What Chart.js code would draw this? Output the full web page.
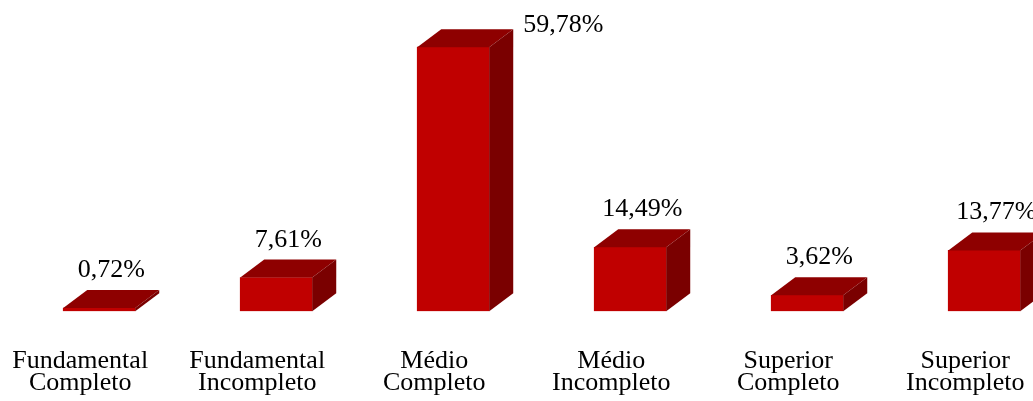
<!DOCTYPE html>
<html>
<head>
<meta charset="utf-8">
<script src="https://cdn.jsdelivr.net/npm/chart.js@4.4.1/dist/chart.umd.min.js"></script>
<style>
  html, body { margin: 0; padding: 0; background: #fff; overflow: hidden; }
  #wrap { position: absolute; left: -7px; top: 0; width: 1088px; height: 433px; }
</style>
</head>
<body>
<div id="wrap"><canvas id="escolaridade"></canvas></div>
<script>
// categorias e percentuais
const categorias = [
  ['Fundamental', 'Completo'],
  ['Fundamental', 'Incompleto'],
  ['Médio', 'Completo'],
  ['Médio', 'Incompleto'],
  ['Superior', 'Completo'],
  ['Superior', 'Incompleto']
];
const percentuais = [0.72, 7.61, 59.78, 14.49, 3.62, 13.77];
const rotulos = ['0,72%', '7,61%', '59,78%', '14,49%', '3,62%', '13,77%'];

const FRONT = '#c00000';
const TOP = '#8e0000';
const SIDE = '#7a0000';
const DX = 24, DY = 18;
const FONT = "'Liberation Serif', 'Times New Roman', serif";

// desenha topo e lateral das barras (efeito 3D) e os rótulos
const bar3d = {
  id: 'bar3d',
  afterDatasetsDraw(chart) {
    const ctx = chart.ctx;
    const meta = chart.getDatasetMeta(0);
    const base = chart.scales.y.getPixelForValue(0);
    ctx.save();
    meta.data.forEach((bar, i) => {
      const half = bar.width / 2;
      const l = bar.x - half, r = bar.x + half, t = bar.y;
      // topo
      ctx.fillStyle = TOP;
      ctx.beginPath();
      ctx.moveTo(l, t);
      ctx.lineTo(l + DX, t - DY);
      ctx.lineTo(r + DX, t - DY);
      ctx.lineTo(r, t);
      ctx.closePath();
      ctx.fill();
      // lateral
      ctx.fillStyle = SIDE;
      ctx.beginPath();
      ctx.moveTo(r, t);
      ctx.lineTo(r + DX, t - DY);
      ctx.lineTo(r + DX, base - DY);
      ctx.lineTo(r, base);
      ctx.closePath();
      ctx.fill();

      // rótulo
      ctx.fillStyle = '#000';
      ctx.font = '26px ' + FONT;
      ctx.textBaseline = 'alphabetic';
      let y = t - DY - 13;
      if (y - 20 < 0) {
        ctx.textAlign = 'left';
        ctx.fillText(rotulos[i], r + DX + 10, t - DY + 3);
      } else {
        ctx.textAlign = 'center';
        ctx.fillText(rotulos[i], bar.x + 12, y);
      }
    });
    ctx.restore();
  }
};

new Chart(
  document.getElementById('escolaridade'),
  {
    type: 'bar',
    data: {
      labels: categorias,
      datasets: [
        {
          label: 'Escolaridade',
          data: percentuais,
          backgroundColor: FRONT,
          borderWidth: 0,
          barThickness: 72
        }
      ]
    },
    options: {
      responsive: true,
      maintainAspectRatio: false,
      animation: false,
      layout: { padding: { left: 4.5, right: 8, top: 2, bottom: 0 } },
      plugins: {
        legend: { display: false },
        tooltip: { enabled: false }
      },
      scales: {
        x: {
          grid: { display: false, drawTicks: false },
          border: { display: false },
          ticks: {
            color: '#000',
            padding: 38,
            labelOffset: -19,
            maxRotation: 0,
            autoSkip: false,
            font: { family: FONT, size: 26, lineHeight: 0.88 }
          }
        },
        y: {
          display: false,
          min: 0,
          max: 70
        }
      }
    },
    plugins: [bar3d]
  }
);
</script>
</body>
</html>
